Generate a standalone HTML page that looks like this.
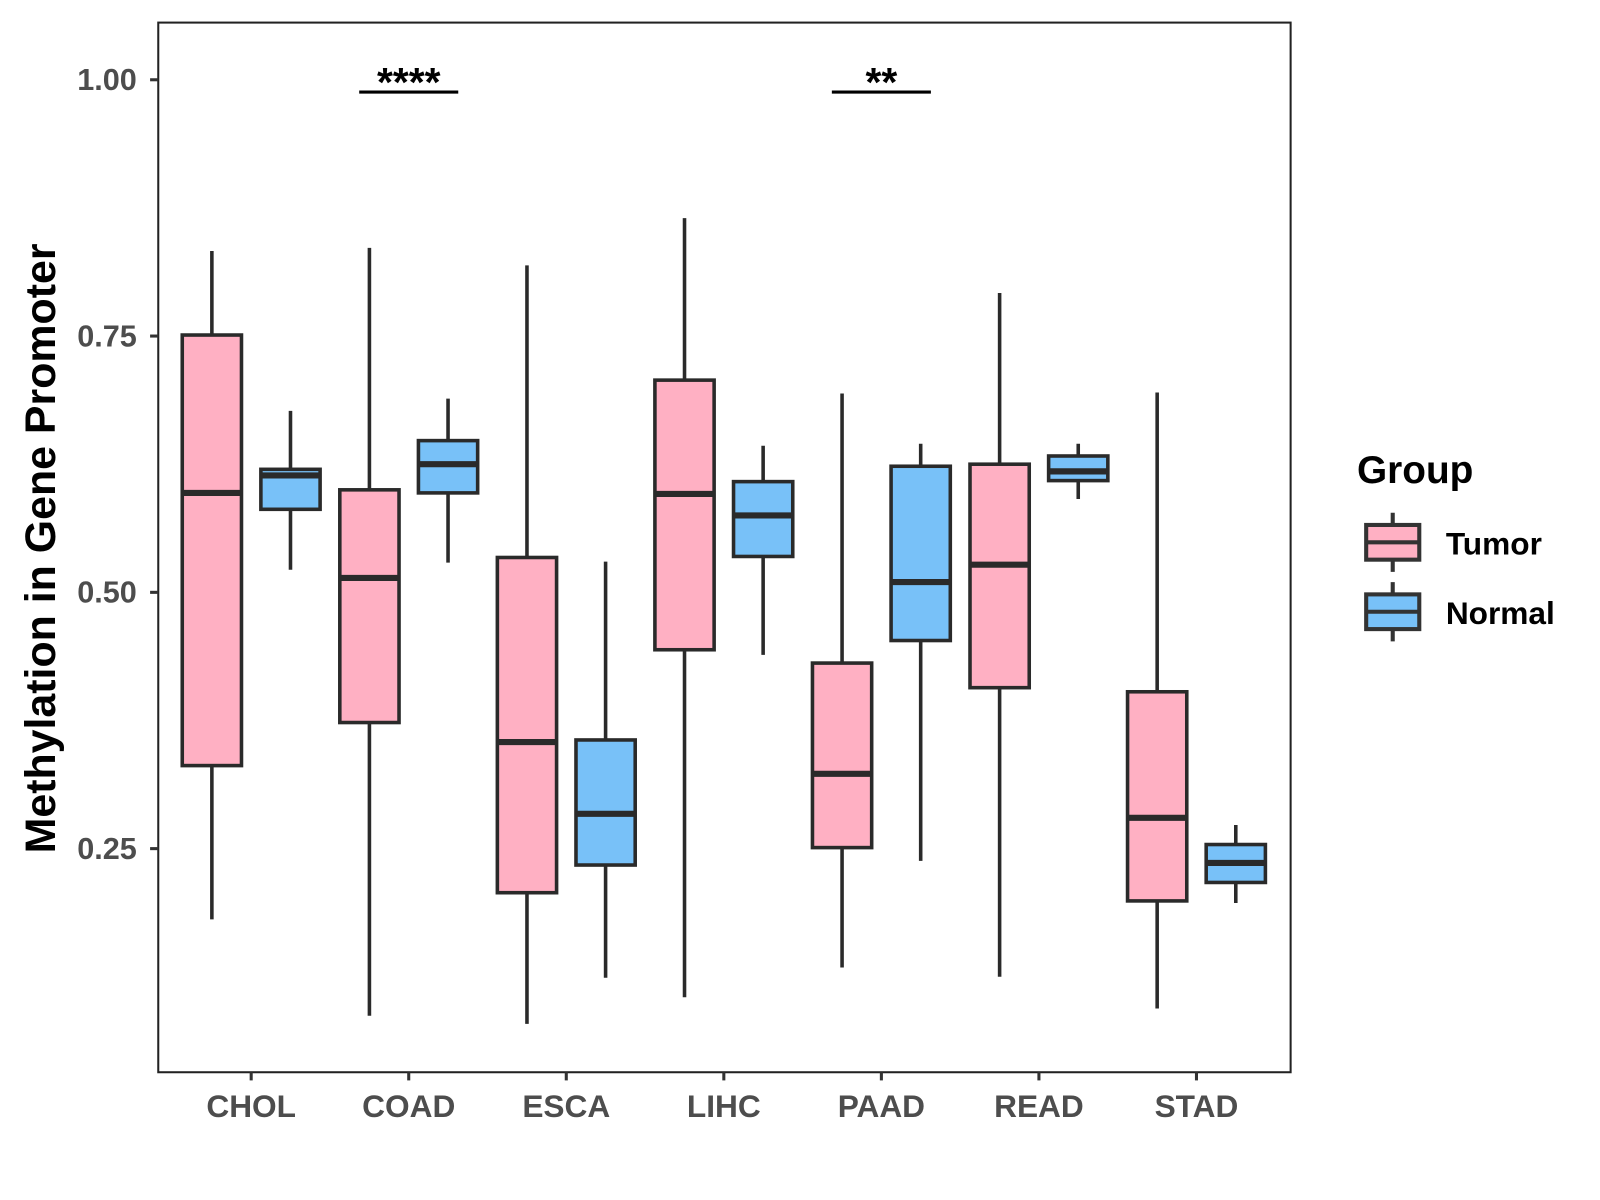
<!DOCTYPE html>
<html><head><meta charset="utf-8"><style>
html,body{margin:0;padding:0;background:#fff;}
svg{display:block;font-family:"Liberation Sans",Arial,sans-serif;font-weight:bold;}
</style></head><body>
<svg id="chart" width="1600" height="1200" viewBox="0 0 1567 1175" xmlns="http://www.w3.org/2000/svg">
<rect x="155" y="22" width="1109" height="1028" fill="#fff" stroke="#222" stroke-width="2"/>
<g id="marks"></g>
<text transform="translate(54,537) rotate(-90)" text-anchor="middle" font-size="42" fill="#000">Methylation in Gene Promoter</text>
<g>
<text x="1329" y="473" font-size="38" fill="#000">Group</text>
<g>
<line x1="1364" y1="502" x2="1364" y2="560" stroke="#333" stroke-width="4"/>
<rect x="1338" y="514" width="52" height="34" fill="#FFB0C3" stroke="#333" stroke-width="4"/>
<line x1="1338" y1="531" x2="1390" y2="531" stroke="#333" stroke-width="4"/>
<text x="1416" y="543" font-size="31" fill="#000">Tumor</text></g>
<g>
<line x1="1364" y1="570" x2="1364" y2="628" stroke="#333" stroke-width="4"/>
<rect x="1338" y="582" width="52" height="34" fill="#78C1F8" stroke="#333" stroke-width="4"/>
<line x1="1338" y1="599" x2="1390" y2="599" stroke="#333" stroke-width="4"/>
<text x="1416" y="611" font-size="31" fill="#000">Normal</text></g>
</g>
</svg>
<script>
const categories=["CHOL","COAD","ESCA","LIHC","PAAD","READ","STAD"];
const yTicks=[0.25,0.50,0.75,1.00];
const yTickLabels=["0.25","0.50","0.75","1.00"];
// [low, q1, median, q3, high]
const tumorStats=[[0.181,0.331,0.597,0.751,0.833],[0.087,0.373,0.514,0.600,0.836],[0.079,0.207,0.354,0.534,0.819],[0.105,0.444,0.596,0.707,0.865],[0.134,0.251,0.323,0.431,0.694],[0.125,0.407,0.527,0.625,0.792],[0.094,0.199,0.280,0.403,0.695]];
const normalStats=[[0.522,0.581,0.614,0.620,0.677],[0.529,0.597,0.625,0.648,0.689],[0.124,0.234,0.284,0.356,0.530],[0.439,0.535,0.575,0.608,0.643],[0.238,0.453,0.510,0.623,0.645],[0.591,0.609,0.618,0.633,0.645],[0.197,0.217,0.236,0.254,0.273]];
const sigCats=["COAD","PAAD"];
const sigLabels=["****","**"];
const sigY=[0.988,0.988];

const NS="http://www.w3.org/2000/svg";
const g=document.getElementById('marks');
function y(v){return 78+(1-v)*1004;}
function x(i){return 246+i*154.3;}
function mk(t,a){const e=document.createElementNS(NS,t);for(const k in a)e.setAttribute(k,a[k]);g.appendChild(e);return e;}
yTicks.forEach((v,i)=>{
 const t=mk('line',{x1:147,x2:155,y1:y(v),y2:y(v),stroke:'#333','stroke-width':3});
 
 
 const l=mk('text',{x:134,y:y(v)+10,'text-anchor':'end','font-size':30,fill:'#4d4d4d'});
 l.textContent=yTickLabels[i];
 
 
});
categories.forEach((c,i)=>{
 const t=mk('line',{x1:x(i),x2:x(i),y1:1050,y2:1058,stroke:'#333','stroke-width':3});
 
 
 const l=mk('text',{x:x(i),y:1094,'text-anchor':'middle','font-size':31,fill:'#4d4d4d'});
 l.textContent=c;
 
 
});
function box(s,cx,fill,name){
 const w=mk('line',{x1:cx,x2:cx,y1:y(s[4]),y2:y(s[0]),stroke:'#2a2a2a','stroke-width':3.5});
 
 
 const r=mk('rect',{x:cx-29,y:y(s[3]),width:58,height:y(s[1])-y(s[3]),fill:fill,stroke:'#2a2a2a','stroke-width':3.5});
 
 
 const m=mk('line',{x1:cx-29,x2:cx+29,y1:y(s[2]),y2:y(s[2]),stroke:'#2a2a2a','stroke-width':6});
 
 
}
categories.forEach((c,i)=>{
 box(tumorStats[i],x(i)-38.5,'#FFB0C3','tumor-'+c.toLowerCase());
 box(normalStats[i],x(i)+38.5,'#78C1F8','normal-'+c.toLowerCase());
});
sigCats.forEach((c,k)=>{
 const i=categories.indexOf(c);
 const l=mk('line',{x1:x(i)-48.5,x2:x(i)+48.5,y1:y(sigY[k]),y2:y(sigY[k]),stroke:'#000','stroke-width':3});
 
 
 const t=mk('text',{x:x(i),y:y(sigY[k])+4,'text-anchor':'middle','font-size':40,fill:'#000'});
 t.textContent=sigLabels[k];
 
 
});
</script>
</body></html>
